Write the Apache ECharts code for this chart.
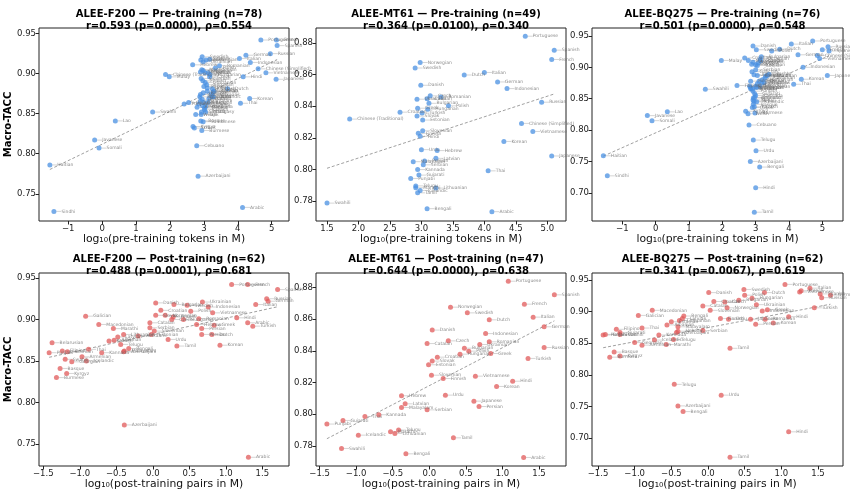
<!DOCTYPE html>
<html>
<head>
<meta charset="utf-8">
<script src="https://cdn.jsdelivr.net/npm/echarts@6/dist/echarts.min.js"></script>
<style>
  html, body { margin: 0; background: #fff; }
  #chart { width: 850px; height: 497px; }
</style>
</head>
<body>
<div id="chart"></div>
<script>
// [language, log10 size, Macro-TACC]
const preF200 = [
  ['Portuguese', 4.68, 0.942], ['French', 5.14, 0.942], ['Spanish', 5.16, 0.935], ['Russian', 4.96, 0.925],
  ['German', 4.24, 0.923], ['Italian', 4.05, 0.919], ['Indonesian', 4.37, 0.914], ['Chinese (Simplified)', 4.60, 0.906],
  ['Vietnamese', 4.83, 0.901], ['Japanese', 5.13, 0.893], ['Hindi', 4.16, 0.896], ['Dutch', 3.70, 0.881],
  ['Korean', 4.35, 0.869], ['Thai', 4.08, 0.863], ['Polish', 3.34, 0.907], ['Romanian', 3.46, 0.910],
  ['Chinese (Traditional)', 1.87, 0.899], ['Malay', 1.98, 0.896], ['Swahili', 1.49, 0.852], ['Lao', 0.39, 0.841],
  ['Javanese', -0.22, 0.817], ['Somali', -0.09, 0.807], ['Haitian', -1.54, 0.786], ['Sindhi', -1.42, 0.728],
  ['Azerbaijani', 2.83, 0.772], ['Arabic', 4.14, 0.733], ['Cebuano', 2.79, 0.810], ['Burmese', 2.94, 0.829],
  ['Kyrgyz', 2.68, 0.834], ['Uzbek', 2.72, 0.832], ['Basque', 2.91, 0.841], ['Sundanese', 2.98, 0.840],
  ['Welsh', 2.76, 0.849], ['Kazakh', 3.02, 0.855], ['Kannada', 3.05, 0.859], ['Bengali', 3.12, 0.864],
  ['Punjabi', 2.42, 0.862], ['Gujarati', 2.55, 0.864], ['Tamil', 3.25, 0.871], ['Latvian', 3.30, 0.878],
  ['Albanian', 2.90, 0.874], ['Czech', 3.17, 0.896], ['Swedish', 2.95, 0.921], ['Danish', 2.91, 0.917],
  ['Norwegian', 3.06, 0.917], ['Ukrainian', 2.98, 0.915], ['Greek', 3.17, 0.918], ['Hebrew', 2.67, 0.911],
  ['Macedonian', 2.94, 0.905], ['Bulgarian', 2.98, 0.904], ['Serbian', 2.90, 0.902], ['Croatian', 3.03, 0.901],
  ['Slovak', 3.13, 0.901], ['Hungarian', 3.18, 0.899], ['Slovenian', 2.92, 0.894], ['Finnish', 2.97, 0.891],
  ['Lithuanian', 3.04, 0.889], ['Estonian', 3.08, 0.886], ['Persian', 3.00, 0.884], ['Urdu', 3.10, 0.882],
  ['Turkish', 3.25, 0.881], ['Galician', 3.27, 0.877], ['Afrikaans', 3.22, 0.874], ['Icelandic', 3.28, 0.871],
  ['Belarusian', 2.88, 0.871], ['Marathi', 2.95, 0.868], ['Malayalam', 2.90, 0.866], ['Telugu', 3.00, 0.864],
  ['Armenian', 2.85, 0.862], ['Georgian', 2.96, 0.860], ['Filipino', 3.02, 0.857], ['Sinhala', 2.93, 0.852],
  ['Tajik', 2.92, 0.849], ['Mongolian', 3.10, 0.878], ['Pashto', 2.98, 0.876], ['Khmer', 3.15, 0.869],
  ['Amharic', 2.80, 0.858], ['Malagasy', 3.05, 0.852]
];

const preMT61 = [
  ['Portuguese', 4.65, 0.8842], ['Spanish', 5.11, 0.8754], ['French', 5.07, 0.8695], ['Norwegian', 2.98, 0.8676],
  ['Swedish', 2.90, 0.8641], ['Dutch', 3.68, 0.8597], ['Italian', 4.00, 0.8613], ['Danish', 2.99, 0.8532],
  ['German', 4.21, 0.8553], ['Indonesian', 4.36, 0.8511], ['Czech', 3.14, 0.8465], ['Catalan', 3.09, 0.8446],
  ['Ukrainian', 2.93, 0.8444], ['Romanian', 3.31, 0.8458], ['Greek', 2.94, 0.8387], ['Bulgarian', 3.12, 0.8418],
  ['Polish', 3.43, 0.8402], ['Croatian', 2.66, 0.8362], ['Hungarian', 3.10, 0.8381], ['Turkish', 3.01, 0.8356],
  ['Slovak', 2.93, 0.8337], ['Estonian', 3.02, 0.8312], ['Chinese (Traditional)', 1.86, 0.8318], ['Russian', 4.91, 0.8425],
  ['Chinese (Simplified)', 4.59, 0.8291], ['Vietnamese', 4.77, 0.8240], ['Korean', 4.31, 0.8177], ['Japanese', 5.07, 0.8085],
  ['Finnish', 2.95, 0.8228], ['Slovenian', 3.02, 0.8244], ['Hindi', 2.98, 0.8209], ['Urdu', 3.00, 0.8125],
  ['Hebrew', 3.25, 0.8119], ['Persian', 3.05, 0.8054], ['Latvian', 3.23, 0.8070], ['Serbian', 3.03, 0.8029],
  ['Malayalam', 2.87, 0.8049], ['Kannada', 2.94, 0.7999], ['Punjabi', 2.83, 0.7943], ['Gujarati', 2.96, 0.7964],
  ['Telugu', 2.91, 0.7896], ['Marathi', 2.91, 0.7884], ['Lithuanian', 3.23, 0.7882], ['Icelandic', 2.98, 0.7867],
  ['Tamil', 2.94, 0.7852], ['Bengali', 3.09, 0.7752], ['Arabic', 4.12, 0.7733], ['Thai', 4.06, 0.7991],
  ['Swahili', 1.50, 0.7787]
];

const preBQ275 = [
  ['Portuguese', 4.71, 0.942], ['Italian', 4.07, 0.937], ['Dutch', 3.72, 0.929], ['Polish', 3.48, 0.926],
  ['French', 5.00, 0.928], ['Russian', 5.17, 0.933], ['Spanish', 5.20, 0.926], ['German', 4.27, 0.920],
  ['Chinese (Simplified)', 4.85, 0.919], ['Vietnamese', 4.92, 0.914], ['Indonesian', 4.42, 0.900], ['Japanese', 5.15, 0.887],
  ['Korean', 4.37, 0.881], ['Thai', 4.14, 0.873], ['Malay', 1.97, 0.911], ['Swahili', 1.49, 0.865],
  ['Lao', 0.35, 0.829], ['Javanese', -0.25, 0.823], ['Somali', -0.11, 0.815], ['Haitian', -1.57, 0.759],
  ['Sindhi', -1.45, 0.727], ['Filipino', 2.44, 0.871], ['Kyrgyz', 2.70, 0.830], ['Welsh', 2.77, 0.826],
  ['Cebuano', 2.80, 0.808], ['Burmese', 2.98, 0.827], ['Telugu', 2.93, 0.784], ['Urdu', 3.01, 0.767],
  ['Azerbaijani', 2.84, 0.750], ['Bengali', 3.12, 0.741], ['Hindi', 3.00, 0.708], ['Tamil', 2.96, 0.669],
  ['Croatian', 2.67, 0.915], ['Danish', 2.92, 0.934], ['Swedish', 3.02, 0.928], ['Macedonian', 2.78, 0.911],
  ['Bulgarian', 3.17, 0.917], ['Ukrainian', 3.13, 0.913], ['Czech', 3.15, 0.910], ['Greek', 3.08, 0.907],
  ['Slovenian', 3.00, 0.904], ['Norwegian', 2.92, 0.908], ['Slovak', 2.88, 0.905], ['Turkish', 3.05, 0.903],
  ['Galician', 2.89, 0.893], ['Serbian', 3.00, 0.896], ['Albanian', 2.95, 0.888], ['Catalan', 3.05, 0.887],
  ['Lithuanian', 3.30, 0.886], ['Latvian', 3.35, 0.887], ['Romanian', 3.28, 0.883], ['Hungarian', 3.20, 0.880],
  ['Estonian', 3.10, 0.878], ['Finnish', 2.85, 0.878], ['Hebrew', 3.25, 0.876], ['Persian', 3.05, 0.874],
  ['Belarusian', 3.00, 0.870], ['Malayalam', 2.85, 0.868], ['Marathi', 2.90, 0.865], ['Georgian', 3.02, 0.868],
  ['Punjabi', 2.92, 0.862], ['Gujarati', 2.97, 0.858], ['Kannada', 3.00, 0.855], ['Armenian', 2.93, 0.851],
  ['Nepali', 2.95, 0.846], ['Icelandic', 3.03, 0.845], ['Basque', 2.93, 0.841], ['Kazakh', 2.96, 0.837],
  ['Uzbek', 2.90, 0.836], ['Sinhala', 2.85, 0.866], ['Afrikaans', 3.18, 0.875], ['Tajik', 2.92, 0.848],
  ['Amharic', 2.97, 0.852], ['Mongolian', 3.12, 0.869], ['Pashto', 3.40, 0.889], ['Khmer', 2.82, 0.870]
];

const postF200 = [
  ['Portuguese', 1.08, 0.942], ['French', 1.30, 0.942], ['Spanish', 1.71, 0.936], ['Russian', 1.56, 0.925],
  ['German', 1.58, 0.922], ['Italian', 1.41, 0.918], ['Bulgarian', 0.29, 0.918], ['Swedish', 0.47, 0.917],
  ['Ukrainian', 0.68, 0.921], ['Polish', 0.52, 0.910], ['Indonesian', 0.76, 0.915], ['Danish', 0.04, 0.920],
  ['Croatian', 0.11, 0.911], ['Slovak', 0.04, 0.905], ['Catalan', -0.04, 0.896], ['Serbian', -0.04, 0.890],
  ['Galician', -0.92, 0.904], ['Macedonian', -0.74, 0.894], ['Marathi', -0.54, 0.889], ['Albanian', -0.53, 0.875],
  ['Belarusian', -1.38, 0.872], ['Punjabi', -1.42, 0.860], ['Filipino', -1.24, 0.862], ['Swahili', -1.20, 0.852],
  ['Thai', -0.88, 0.864], ['Basque', -1.27, 0.841], ['Burmese', -1.32, 0.830], ['Kyrgyz', -1.18, 0.835],
  ['Georgian', -1.11, 0.849], ['Icelandic', -0.91, 0.850], ['Armenian', -0.97, 0.855], ['Kannada', -0.70, 0.860],
  ['Lithuanian', -0.40, 0.882], ['Latvian', -0.48, 0.879], ['Telugu', -0.44, 0.870], ['Bengali', -0.33, 0.865],
  ['Malayalam', -0.39, 0.862], ['Azerbaijani', -0.40, 0.861], ['Estonian', -0.02, 0.882], ['Slovenian', 0.02, 0.886],
  ['Urdu', 0.21, 0.876], ['Tamil', 0.33, 0.868], ['Czech', 0.26, 0.900], ['Hungarian', 0.42, 0.900],
  ['Norwegian', 0.17, 0.905], ['Finnish', 0.28, 0.903], ['Vietnamese', 0.82, 0.908], ['Romanian', 0.63, 0.901],
  ['Greek', 0.84, 0.893], ['Hebrew', 0.60, 0.894], ['Persian', 0.67, 0.889], ['Persian', 0.67, 0.882],
  ['Dutch', 0.81, 0.882], ['Korean', 0.92, 0.869], ['Hindi', 1.15, 0.902], ['Arabic', 1.30, 0.896],
  ['Turkish', 1.37, 0.892], ['Azerbaijani', -0.39, 0.773], ['Arabic', 1.31, 0.734], ['Bosnian', -1.17, 0.861],
  ['Kazakh', -0.60, 0.874], ['Afrikaans', -0.20, 0.880]
];

const postMT61 = [
  ['Portuguese', 1.08, 0.8840], ['Spanish', 1.71, 0.8754], ['French', 1.30, 0.8695], ['Norwegian', 0.29, 0.8676],
  ['Swedish', 0.52, 0.8640], ['Dutch', 0.82, 0.8596], ['Italian', 1.42, 0.8613], ['Danish', 0.04, 0.8531],
  ['German', 1.57, 0.8552], ['Indonesian', 0.77, 0.8509], ['Czech', 0.26, 0.8463], ['Catalan', -0.03, 0.8446],
  ['Romanian', 0.82, 0.8457], ['Ukrainian', 0.69, 0.8440], ['Bulgarian', 0.48, 0.8417], ['Polish', 0.54, 0.8398],
  ['Greek', 0.84, 0.8383], ['Hungarian', 0.42, 0.8379], ['Croatian', 0.11, 0.8360], ['Slovak', 0.04, 0.8335],
  ['Estonian', -0.01, 0.8312], ['Russian', 1.57, 0.8421], ['Turkish', 1.35, 0.8352], ['Slovenian', 0.03, 0.8246],
  ['Finnish', 0.19, 0.8225], ['Vietnamese', 0.63, 0.8240], ['Hindi', 1.14, 0.8208], ['Korean', 0.92, 0.8175],
  ['Hebrew', -0.38, 0.8116], ['Urdu', 0.22, 0.8120], ['Latvian', -0.33, 0.8065], ['Malayalam', -0.38, 0.8042],
  ['Japanese', 0.61, 0.8082], ['Persian', 0.68, 0.8048], ['Serbian', -0.03, 0.8027], ['Thai', -0.88, 0.7985],
  ['Kannada', -0.69, 0.7996], ['Gujarati', -1.18, 0.7960], ['Punjabi', -1.40, 0.7937], ['Marathi', -0.53, 0.7888],
  ['Telugu', -0.42, 0.7899], ['Lithuanian', -0.47, 0.7878], ['Icelandic', -0.97, 0.7867], ['Tamil', 0.33, 0.7850],
  ['Swahili', -1.20, 0.7783], ['Bengali', -0.32, 0.7749], ['Arabic', 1.29, 0.7726]
];

const postBQ275 = [
  ['Portuguese', 1.05, 0.943], ['Italian', 1.39, 0.937], ['French', 1.27, 0.933], ['Spanish', 1.53, 0.928],
  ['Russian', 1.55, 0.922], ['German', 1.67, 0.926], ['Turkish', 1.45, 0.906], ['Vietnamese', 1.25, 0.931],
  ['Dutch', 0.77, 0.930], ['Swedish', 0.49, 0.935], ['Polish', 0.50, 0.926], ['Bulgarian', 0.42, 0.918],
  ['Danish', 0.01, 0.930], ['Croatian', 0.08, 0.916], ['Czech', 0.23, 0.915], ['Hungarian', 0.60, 0.921],
  ['Norwegian', 0.26, 0.906], ['Ukrainian', 0.66, 0.911], ['Greek', 0.81, 0.903], ['Indonesian', 0.74, 0.901],
  ['Hindi', 1.10, 0.892], ['Romanian', 0.78, 0.888], ['Korean', 0.89, 0.882], ['Persian', 0.65, 0.880],
  ['Japanese', 0.58, 0.888], ['Finnish', 0.17, 0.889], ['Slovenian', 0.03, 0.902], ['Catalan', -0.07, 0.909],
  ['Bengali', -0.33, 0.893], ['Latvian', -0.35, 0.889], ['Lithuanian', -0.39, 0.886], ['Estonian', -0.50, 0.884],
  ['Galician', -0.95, 0.894], ['Macedonian', -0.76, 0.902], ['Thai', -0.90, 0.874], ['Albanian', -0.56, 0.879],
  ['Malayalam', -0.41, 0.876], ['Hebrew', -0.41, 0.869], ['Serbian', -0.07, 0.870], ['Azerbaijani', -0.43, 0.867],
  ['Belarusian', -1.40, 0.864], ['Punjabi', -1.43, 0.863], ['Filipino', -1.25, 0.872], ['Gujarati', -1.20, 0.867],
  ['Swahili', -1.20, 0.864], ['Icelandic', -0.73, 0.855], ['Kannada', -0.67, 0.863], ['Telugu', -0.47, 0.856],
  ['Marathi', -0.57, 0.848], ['Armenian', -0.90, 0.847], ['Georgian', -1.00, 0.851], ['Basque', -1.28, 0.836],
  ['Burmese', -1.34, 0.828], ['Kyrgyz', -1.20, 0.830], ['Tamil', 0.30, 0.842], ['Telugu', -0.46, 0.785],
  ['Urdu', 0.18, 0.768], ['Azerbaijani', -0.41, 0.751], ['Bengali', -0.34, 0.742], ['Hindi', 1.10, 0.710],
  ['Tamil', 0.30, 0.670], ['Urdu', 0.28, 0.888]
];

const titles = [
  'ALEE-F200 — Pre-training (n=78)\nr=0.593 (p=0.0000), ρ=0.554',
  'ALEE-MT61 — Pre-training (n=49)\nr=0.364 (p=0.0100), ρ=0.340',
  'ALEE-BQ275 — Pre-training (n=76)\nr=0.501 (p=0.0000), ρ=0.548',
  'ALEE-F200 — Post-training (n=62)\nr=0.488 (p=0.0001), ρ=0.681',
  'ALEE-MT61 — Post-training (n=47)\nr=0.644 (p=0.0000), ρ=0.638',
  'ALEE-BQ275 — Post-training (n=62)\nr=0.341 (p=0.0067), ρ=0.619'
];

const preTicksX = [-1, 0, 1, 2, 3, 4, 5];
const mtPreTicksX = [1.5, 2.0, 2.5, 3.0, 3.5, 4.0, 4.5, 5.0];
const postTicksX = [-1.5, -1.0, -0.5, 0.0, 0.5, 1.0, 1.5];
const wideTicksY = [0.75, 0.80, 0.85, 0.90, 0.95];
const bqTicksY = [0.70, 0.75, 0.80, 0.85, 0.90, 0.95];
const mtTicksY = [0.78, 0.80, 0.82, 0.84, 0.86, 0.88];

const BLUE = '#4a90e2';
const RED = '#e05a5a';
const FONT = 'DejaVu Sans';

const panels = [
  { data: preF200, color: BLUE, xName: 'log₁₀(pre-training tokens in M)', xr: [-1.86, 5.51], yr: [0.716, 0.957], xt: preTicksX, xd: 0, yt: wideTicksY, yd: 2, left: 39, top: 28, w: 250, yName: true },
  { data: preMT61, color: BLUE, xName: 'log₁₀(pre-training tokens in M)', xr: [1.325, 5.297], yr: [0.7674, 0.8894], xt: mtPreTicksX, xd: 1, yt: mtTicksY, yd: 2, left: 316, top: 28, w: 250 },
  { data: preBQ275, color: BLUE, xName: 'log₁₀(pre-training tokens in M)', xr: [-1.91, 5.62], yr: [0.655, 0.9627], xt: preTicksX, xd: 0, yt: bqTicksY, yd: 2, left: 592, top: 28, w: 251 },
  { data: postF200, color: RED, xName: 'log₁₀(post-training pairs in M)', xr: [-1.559, 1.866], yr: [0.7235, 0.956], xt: postTicksX, xd: 1, yt: wideTicksY, yd: 2, left: 39, top: 273, w: 250, yName: true },
  { data: postMT61, color: RED, xName: 'log₁₀(post-training pairs in M)', xr: [-1.549, 1.869], yr: [0.7672, 0.8892], xt: postTicksX, xd: 1, yt: mtTicksY, yd: 2, left: 316, top: 273, w: 250 },
  { data: postBQ275, color: RED, xName: 'log₁₀(post-training pairs in M)', xr: [-1.582, 1.841], yr: [0.656, 0.961], xt: postTicksX, xd: 1, yt: bqTicksY, yd: 2, left: 592, top: 273, w: 251 }
];

function fmt(v, d) {
  const s = Math.abs(v).toFixed(d);
  return (v < -1e-9 ? '\u2212' : '') + s;
}

// least-squares fit line over the data x-range
function fitLine(pts) {
  const n = pts.length;
  let sx = 0, sy = 0, sxx = 0, sxy = 0;
  pts.forEach(p => { sx += p[1]; sy += p[2]; sxx += p[1] * p[1]; sxy += p[1] * p[2]; });
  const b = (n * sxy - sx * sy) / (n * sxx - sx * sx);
  const a = (sy - b * sx) / n;
  const xs = pts.map(p => p[1]);
  const lo = Math.min(...xs), hi = Math.max(...xs);
  return [[lo, a + b * lo], [hi, a + b * hi]];
}

const option = {
  backgroundColor: '#fff',
  animation: false,
  textStyle: { fontFamily: FONT },
  title: [], grid: [], xAxis: [], yAxis: [], series: []
};

panels.forEach((p, i) => {
  const h = 193;
  option.grid.push({
    left: p.left, top: p.top, width: p.w, height: h,
    show: true, borderColor: '#222', borderWidth: 1, containLabel: false
  });
  option.title.push({
    text: titles[i],
    left: p.left + p.w / 2, top: p.top - 24, textAlign: 'center',
    textStyle: { fontFamily: FONT, fontSize: 10, fontWeight: 'bold', lineHeight: 11.5, color: '#000' }
  });
  option.xAxis.push({
    type: 'value', gridIndex: i, min: p.xr[0], max: p.xr[1],
    name: p.xName, nameLocation: 'middle', nameGap: 13,
    nameTextStyle: { fontFamily: FONT, fontSize: 10.8, color: '#111' },
    splitLine: { show: false },
    axisLine: { show: false, onZero: false },
    axisTick: { show: true, length: 3.5, lineStyle: { color: '#222' }, customValues: p.xt },
    axisLabel: { fontFamily: FONT, fontSize: 8.5, color: '#222', margin: 3, customValues: p.xt, formatter: v => fmt(v, p.xd) }
  });
  option.yAxis.push({
    type: 'value', gridIndex: i, min: p.yr[0], max: p.yr[1],
    name: p.yName ? 'Macro-TACC' : '', nameLocation: 'middle', nameGap: 23,
    nameTextStyle: { fontFamily: FONT, fontSize: 10, fontWeight: 'bold', color: '#000' },
    splitLine: { show: false },
    axisLine: { show: false, onZero: false },
    axisTick: { show: true, length: 3.5, lineStyle: { color: '#222' }, customValues: p.yt },
    axisLabel: { fontFamily: FONT, fontSize: 8.5, color: '#222', margin: 3, customValues: p.yt, formatter: v => fmt(v, p.yd) }
  });
  option.series.push({
    type: 'line', xAxisIndex: i, yAxisIndex: i, data: fitLine(p.data),
    showSymbol: false, symbol: 'none', silent: true, z: 1,
    lineStyle: { color: '#888', width: 0.8, type: [3, 2] }
  });
  option.series.push({
    type: 'scatter', xAxisIndex: i, yAxisIndex: i, symbolSize: 5, z: 2,
    data: p.data.map(d => ({ name: d[0], value: [d[1], d[2]] })),
    itemStyle: { color: p.color, opacity: 0.75 },
    label: {
      show: true, position: 'right', distance: 5, formatter: '{b}',
      fontFamily: FONT, fontSize: 4.5, color: '#666'
    },
    labelLine: { show: true, lineStyle: { color: '#aaa', width: 0.5 } },
    labelLayout: { moveOverlap: 'shiftY' }
  });
});

const chart = echarts.init(document.getElementById('chart'), null, { renderer: 'canvas' });
chart.setOption(option);
</script>
</body>
</html>
